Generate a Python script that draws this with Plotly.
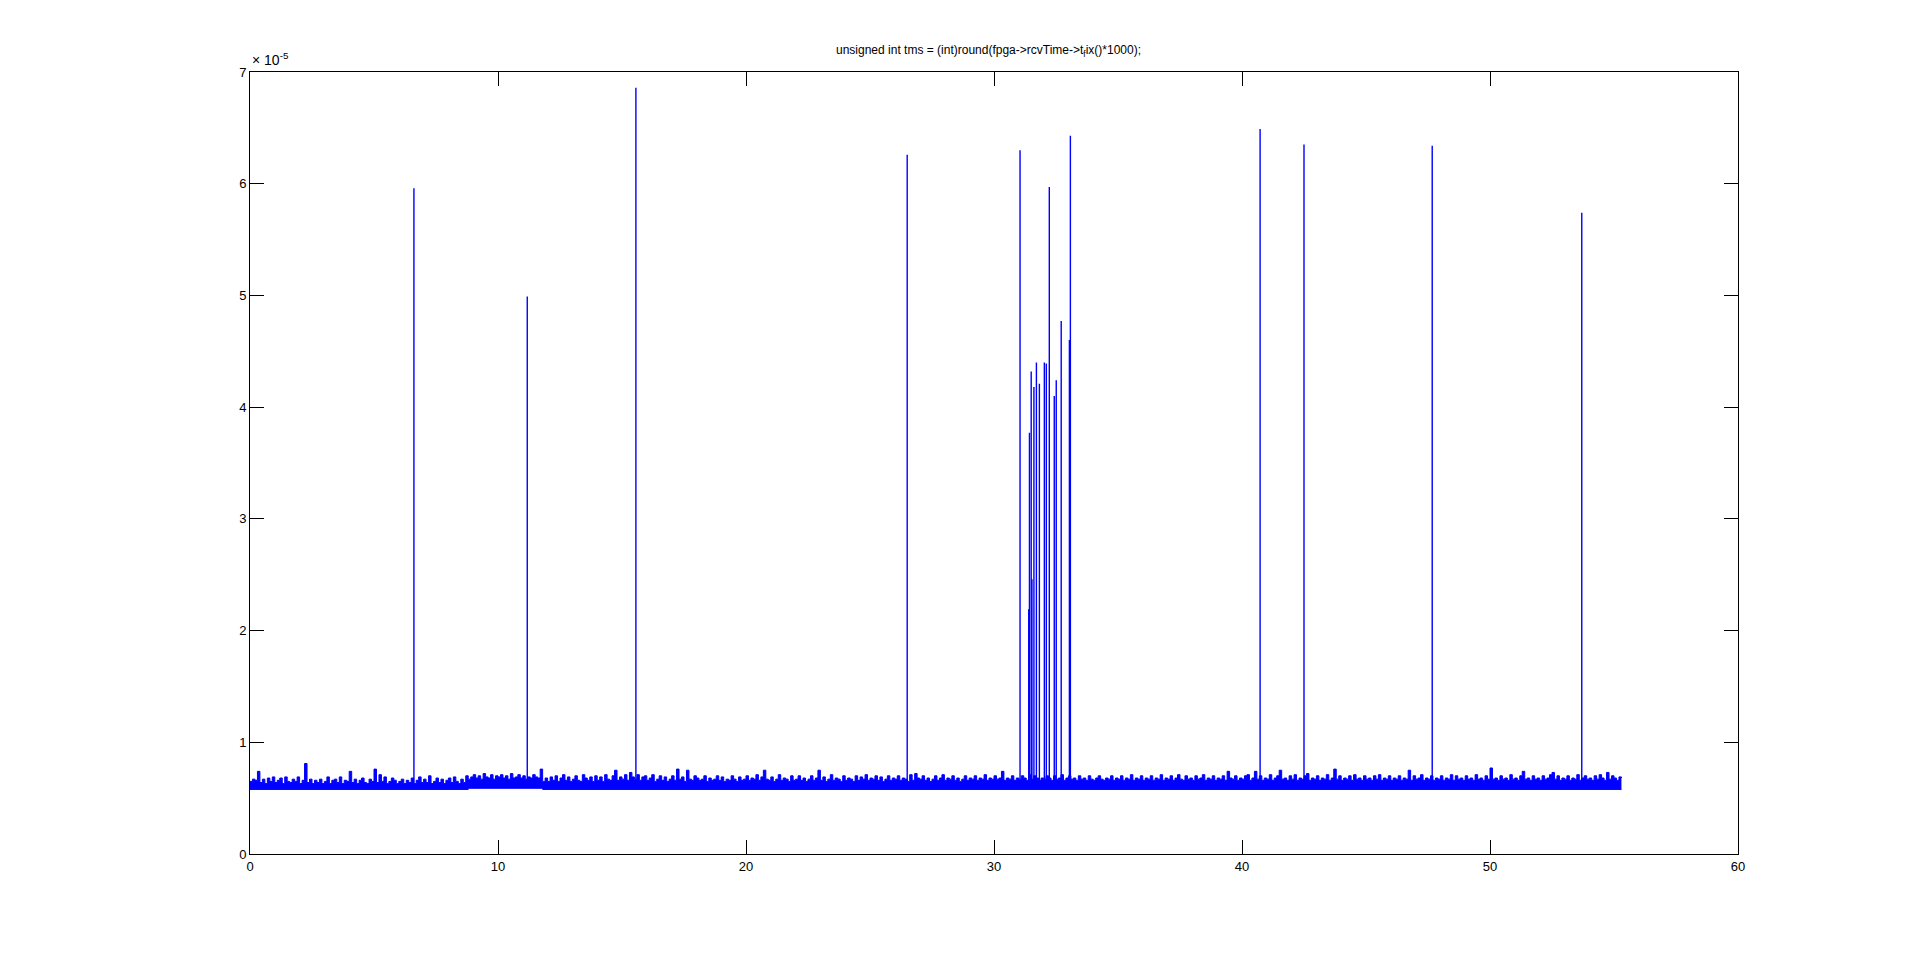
import numpy as np
import plotly.graph_objects as go

# values in units of 1e-5
band_step = 0.1
band_top = [
0.65,0.67,0.66,0.74,0.64,0.67,0.63,0.68,0.65,0.69,
0.64,0.66,0.68,0.63,0.69,0.65,0.64,0.67,0.65,0.69,
0.63,0.66,0.81,0.64,0.67,0.63,0.66,0.64,0.67,0.63,
0.65,0.69,0.63,0.66,0.67,0.64,0.69,0.63,0.66,0.65,
0.74,0.64,0.67,0.63,0.66,0.68,0.64,0.63,0.67,0.65,
0.76,0.64,0.71,0.65,0.69,0.63,0.65,0.68,0.66,0.63,
0.65,0.67,0.63,0.66,0.64,0.68,0.63,0.66,0.69,0.64,
0.67,0.64,0.70,0.63,0.65,0.68,0.64,0.67,0.63,0.66,
0.68,0.64,0.69,0.65,0.63,0.67,0.64,0.70,0.67,0.69,
0.71,0.68,0.70,0.67,0.72,0.69,0.68,0.71,0.67,0.70,
0.69,0.71,0.68,0.70,0.67,0.72,0.68,0.69,0.71,0.68,
0.70,0.67,0.69,0.68,0.71,0.69,0.68,0.76,0.65,0.68,
0.65,0.69,0.66,0.70,0.65,0.68,0.71,0.66,0.69,0.65,
0.67,0.70,0.66,0.65,0.71,0.68,0.66,0.69,0.65,0.70,
0.66,0.69,0.65,0.71,0.67,0.66,0.70,0.75,0.66,0.69,
0.67,0.71,0.66,0.73,0.69,0.67,0.71,0.66,0.69,0.70,
0.66,0.68,0.71,0.65,0.67,0.70,0.66,0.69,0.65,0.67,
0.70,0.66,0.76,0.67,0.69,0.65,0.75,0.67,0.66,0.70,
0.68,0.66,0.67,0.70,0.65,0.68,0.66,0.67,0.70,0.66,
0.69,0.65,0.67,0.66,0.70,0.67,0.65,0.69,0.66,0.67,
0.70,0.66,0.68,0.67,0.71,0.66,0.69,0.75,0.67,0.66,
0.69,0.65,0.67,0.71,0.66,0.68,0.67,0.65,0.70,0.66,
0.67,0.70,0.66,0.68,0.65,0.67,0.70,0.66,0.68,0.75,
0.66,0.69,0.65,0.67,0.71,0.66,0.68,0.67,0.65,0.70,
0.66,0.68,0.67,0.65,0.70,0.66,0.69,0.67,0.71,0.66,
0.68,0.67,0.70,0.66,0.69,0.65,0.67,0.70,0.66,0.68,
0.67,0.70,0.66,0.68,0.67,0.65,0.71,0.66,0.72,0.68,
0.67,0.70,0.66,0.68,0.65,0.67,0.70,0.66,0.68,0.71,
0.66,0.68,0.67,0.70,0.66,0.68,0.65,0.67,0.70,0.66,
0.68,0.67,0.70,0.66,0.68,0.67,0.71,0.66,0.68,0.67,
0.70,0.67,0.68,0.74,0.66,0.68,0.67,0.70,0.66,0.68,
0.67,0.70,0.68,0.66,0.71,0.67,0.70,0.68,0.66,0.68,
0.67,0.70,0.68,0.66,0.70,0.67,0.68,0.71,0.66,0.68,
0.70,0.67,0.68,0.66,0.70,0.67,0.68,0.66,0.70,0.67,
0.66,0.68,0.70,0.67,0.66,0.68,0.67,0.70,0.66,0.68,
0.67,0.70,0.66,0.68,0.67,0.71,0.66,0.68,0.67,0.70,
0.66,0.68,0.67,0.70,0.66,0.68,0.67,0.71,0.66,0.68,
0.67,0.70,0.66,0.68,0.71,0.67,0.66,0.70,0.67,0.68,
0.66,0.70,0.67,0.68,0.71,0.66,0.68,0.67,0.70,0.66,
0.68,0.67,0.70,0.66,0.74,0.68,0.67,0.70,0.66,0.68,
0.67,0.70,0.71,0.66,0.68,0.74,0.67,0.70,0.66,0.68,
0.67,0.71,0.66,0.68,0.70,0.75,0.67,0.68,0.66,0.70,
0.67,0.71,0.66,0.68,0.67,0.70,0.72,0.66,0.68,0.67,
0.70,0.66,0.68,0.67,0.71,0.66,0.68,0.76,0.67,0.70,
0.66,0.68,0.67,0.70,0.66,0.71,0.67,0.68,0.66,0.70,
0.67,0.68,0.66,0.70,0.67,0.71,0.66,0.68,0.67,0.70,
0.66,0.68,0.67,0.70,0.66,0.68,0.67,0.75,0.66,0.70,
0.67,0.68,0.71,0.66,0.68,0.67,0.70,0.66,0.68,0.67,
0.70,0.66,0.68,0.67,0.71,0.66,0.70,0.67,0.68,0.66,
0.70,0.67,0.68,0.66,0.71,0.67,0.68,0.66,0.70,0.67,
0.77,0.67,0.68,0.66,0.70,0.67,0.68,0.66,0.71,0.67,
0.68,0.66,0.70,0.74,0.67,0.68,0.66,0.70,0.67,0.68,
0.66,0.70,0.67,0.68,0.71,0.73,0.67,0.70,0.66,0.68,
0.67,0.70,0.66,0.68,0.67,0.71,0.66,0.68,0.70,0.67,
0.68,0.66,0.70,0.67,0.71,0.68,0.66,0.73,0.67,0.70,
0.68,0.66,0.69,0.68,
]

band_bottom_x = [0.0, 8.8, 11.8, 55.3]
band_bottom_y = [0.578, 0.588, 0.578, 0.578]

spike_base = 0.60
spike_x = [6.61, 11.18, 15.56, 26.50, 31.05, 31.40, 31.43, 31.50, 31.53, 31.61,
           31.71, 31.83, 32.03, 32.11, 32.23, 32.43, 32.51, 32.71, 33.04, 33.08,
           40.73, 42.50, 47.67, 53.70]
spike_top = [5.96, 4.99, 6.86, 6.26, 6.30, 2.19, 3.77, 4.32, 2.46, 4.18,
             4.40, 4.21, 4.40, 4.39, 5.97, 4.10, 4.24, 4.77, 4.60, 6.43,
             6.49, 6.35, 6.34, 5.74]

x_ticks = [0, 10, 20, 30, 40, 50, 60]
y_ticks = [0, 1, 2, 3, 4, 5, 6, 7]

title_text = "unsigned int tms = (int)round(fpga->rcvTime->t<sub>f</sub>ix()*1000);"

BLUE = "#0000ff"
band_x = np.arange(len(band_top)) * band_step

fig = go.Figure()
fig.add_trace(go.Scatter(x=band_bottom_x, y=band_bottom_y, mode="lines",
                         line=dict(color=BLUE, width=1, shape="hv"),
                         showlegend=False, hoverinfo="skip"))
fig.add_trace(go.Scatter(x=band_x, y=band_top, mode="lines",
                         line=dict(color=BLUE, width=1, shape="hv"),
                         fill="tonexty", fillcolor=BLUE,
                         showlegend=False, hoverinfo="skip"))

sx, sy = [], []
for xv, tv in zip(spike_x, spike_top):
    sx += [xv, xv, None]
    sy += [spike_base, tv, None]
fig.add_trace(go.Scatter(x=sx, y=sy, mode="lines",
                         line=dict(color=BLUE, width=1.4),
                         showlegend=False, hoverinfo="skip"))

axis_common = dict(showline=True, linecolor="black", linewidth=1, mirror="ticks",
                   ticks="inside", ticklen=14, tickcolor="black", tickwidth=1,
                   showgrid=False, zeroline=False,
                   tickfont=dict(family="Liberation Sans", size=13, color="black"))

fig.update_layout(
    width=1920, height=959,
    paper_bgcolor="white", plot_bgcolor="white",
    margin=dict(l=242, r=190, t=64, b=113),
    xaxis=dict(range=[0, 60], tickvals=x_ticks, ticktext=[str(v) for v in x_ticks],
               **axis_common),
    yaxis=dict(range=[0, 7], tickvals=y_ticks, ticktext=[str(v) for v in y_ticks],
               **axis_common),
    showlegend=False,
    annotations=[
        dict(text=title_text, xref="paper", yref="paper", x=0.4966, y=1,
             xanchor="center", yanchor="bottom", yshift=11, showarrow=False,
             font=dict(family="Liberation Sans", size=12, color="black")),
        dict(text="× 10<sup>-5</sup>", xref="paper", yref="paper", x=0, y=1,
             xanchor="left", yanchor="bottom", yshift=2, showarrow=False,
             font=dict(family="Liberation Sans", size=14, color="black")),
    ],
)

fig.write_html("out.html")
